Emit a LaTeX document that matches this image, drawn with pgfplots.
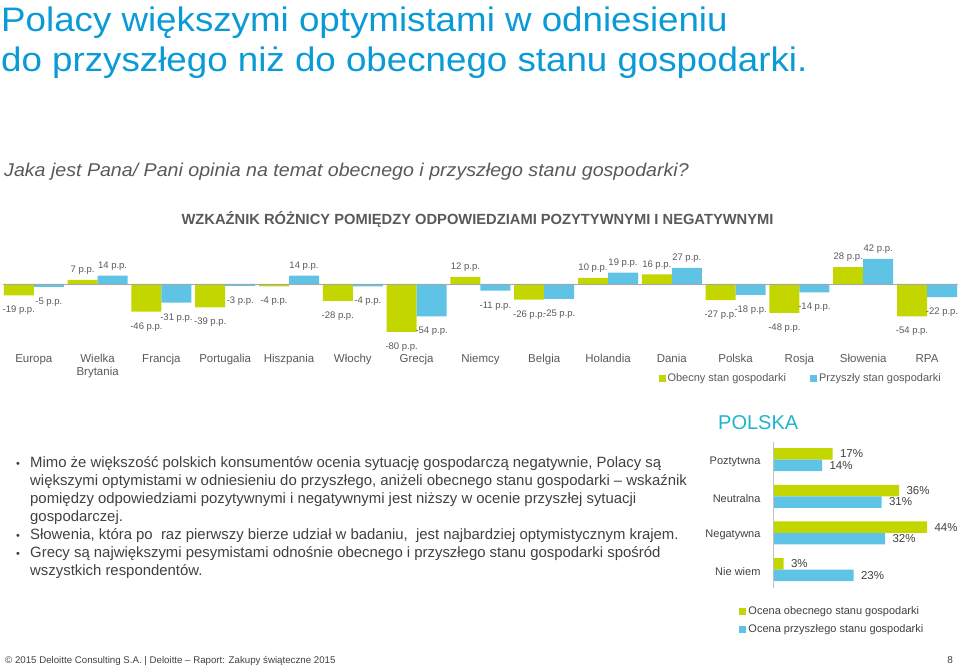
\documentclass[border=0pt]{standalone}
\usepackage{fontspec}
\setmainfont{Liberation Sans}
\usepackage{pgfplots}
\pgfplotsset{compat=1.18}

\definecolor{titleblue}{HTML}{0A9BD7}
\definecolor{polteal}{HTML}{1DB5CB}
\definecolor{obecny}{HTML}{C4D600}
\definecolor{przyszly}{HTML}{5FC3E6}
\definecolor{lblgray}{HTML}{595959}
\definecolor{txtgray}{HTML}{404040}
\definecolor{linegray}{HTML}{A6A6A6}

\newcommand{\fs}[1]{\fontsize{#1}{1.2\dimexpr#1pt\relax}\selectfont}

\begin{document}
\begin{tikzpicture}
\useasboundingbox (0pt,0pt) rectangle (960pt,667pt);

% headings
\node[anchor=base west, inner sep=0pt, text=titleblue, font=\fs{34}] at (1pt,635pt) {\scalebox{1.08}[1]{Polacy większymi optymistami w odniesieniu}};
\node[anchor=base west, inner sep=0pt, text=titleblue, font=\fs{34}] at (1pt,595pt) {\scalebox{1.08}[1]{do przyszłego niż do obecnego stanu gospodarki.}};
\node[anchor=base west, inner sep=0pt, text=lblgray, font=\fs{18.5}\itshape] at (4pt,490pt) {\scalebox{1.06}[1]{Jaka jest Pana/ Pani opinia na temat obecnego i przyszłego stanu gospodarki?}};
\node[anchor=base, inner sep=0pt, text=lblgray, font=\fs{14.7}\bfseries] at (477.5pt,442pt) {WZKAŹNIK RÓŻNICY POMIĘDZY ODPOWIEDZIAMI POZYTYWNYMI I NEGATYWNYMI};

% main chart
\begin{axis}[
  at={(0pt,320pt)}, anchor=south west,
  x=63.8pt, y=0.6pt,
  xmin=-0.53, xmax=14.53, ymin=-105, ymax=50,
  ybar=0pt, bar width=30pt,
  axis line style={draw=none}, major tick length=0pt,
  ytick=\empty,
  xtick={0,...,14},
  xticklabels={Europa,{Wielka\\Brytania},Francja,Portugalia,Hiszpania,Włochy,Grecja,Niemcy,Belgia,Holandia,Dania,Polska,Rosja,Słowenia,RPA},
  xticklabel style={align=center, font=\fontsize{11.5}{12.5}\selectfont, text=lblgray, anchor=north, yshift=-4pt},
  /pgf/number format/assume math mode=true,
  nodes near coords={\rule[-5.5pt]{0pt}{21.3pt}\pgfmathprintnumber{\pgfplotspointmeta} p.p.},
  every node near coord/.append style={font=\fs{9.5}, text=lblgray, inner sep=1.5pt},
  legend columns=2,
  legend style={draw=none, fill=none, at={(0.682,-0.34)}, anchor=west,
    font=\fs{11}, text=lblgray,
    /tikz/every even column/.append style={column sep=22pt}},
  legend image code/.code={\fill[#1,draw=none] (0pt,-3.5pt) rectangle (7pt,3.5pt);},
]
\addplot[fill=obecny, draw=none] coordinates {
  (0,-19) (1,7) (2,-46) (3,-39) (4,-4) (5,-28) (6,-80) (7,12)
  (8,-26) (9,10) (10,16) (11,-27) (12,-48) (13,28) (14,-54)};
\addlegendentry{Obecny stan gospodarki}
\addplot[fill=przyszly, draw=none] coordinates {
  (0,-5) (1,14) (2,-31) (3,-3) (4,14) (5,-4) (6,-54) (7,-11)
  (8,-25) (9,19) (10,27) (11,-18) (12,-14) (13,42) (14,-22)};
\addlegendentry{Przyszły stan gospodarki}
\draw[linegray, line width=0.8pt] (axis cs:-0.48,0) -- (axis cs:14.48,0);
\end{axis}

% bullet text
\foreach \y/\b/\t in {
  200/1/{Mimo że większość polskich konsumentów ocenia sytuację gospodarczą negatywnie, Polacy są},
  182/0/{większymi optymistami w odniesieniu do przyszłego, aniżeli obecnego stanu gospodarki – wskaźnik},
  164/0/{pomiędzy odpowiedziami pozytywnymi i negatywnymi jest niższy w ocenie przyszłej sytuacji},
  146/0/{gospodarczej.},
  128/1/{Słowenia, która po\ \ raz pierwszy bierze udział w badaniu,\ \ jest najbardziej optymistycznym krajem.},
  110/1/{Grecy są największymi pesymistami odnośnie obecnego i przyszłego stanu gospodarki spośród},
  92/0/{wszystkich respondentów.}}{
  \node[anchor=base west, inner sep=0pt, text=txtgray, font=\fs{14.9}] at (30pt,\y pt) {\t};
  \ifnum\b=1 \node[anchor=base, inner sep=0pt, text=txtgray, font=\fs{11}] at (18pt,\y pt) {•};\fi
}

% Polska panel
\node[anchor=west, inner sep=0pt, text=polteal, font=\fs{20}] at (718pt,244pt) {POLSKA};
\begin{axis}[
  at={(773pt,79pt)}, anchor=south west,
  x=3.5pt, y=36.7pt,
  xmin=0, xmax=50, ymin=-0.5, ymax=3.48,
  xbar, bar width=11.5pt,
  axis line style={draw=none}, major tick length=0pt,
  xtick=\empty,
  ytick={0,1,2,3},
  yticklabels={Nie wiem,Negatywna,Neutralna,Poztytwna},
  yticklabel style={font=\fs{11}, text=txtgray, xshift=-9pt, yshift=-2pt},
  /pgf/number format/assume math mode=true,
  nodes near coords={\pgfmathprintnumber{\pgfplotspointmeta}\%},
  every node near coord/.append style={font=\fs{11.5}, text=txtgray, xshift=4pt},
  legend cell align=left,
  legend style={draw=none, fill=none, at={(-0.21,-0.10)}, anchor=north west,
    font=\fs{11}, text=txtgray, row sep=4pt},
  legend image code/.code={\fill[#1,draw=none] (0pt,-3.5pt) rectangle (7pt,3.5pt);},
]
\addplot[fill=obecny, draw=none, bar shift=5.75pt] coordinates {(17,3) (36,2) (44,1) (3,0)};
\addlegendentry{Ocena obecnego stanu gospodarki}
\addplot[fill=przyszly, draw=none, bar shift=-5.75pt] coordinates {(14,3) (31,2) (32,1) (23,0)};
\addlegendentry{Ocena przyszłego stanu gospodarki}
\draw[linegray!70, line width=0.6pt] (axis cs:0,-0.5) -- (axis cs:0,3.48);
\end{axis}

% footer
\node[anchor=base west, inner sep=0pt, text=txtgray, font=\fs{9.7}] at (5pt,4pt) {© 2015 Deloitte Consulting S.A. | Deloitte – Raport: Zakupy świąteczne 2015};
\node[anchor=base east, inner sep=0pt, text=txtgray, font=\fs{10}] at (953pt,4pt) {8};
\end{tikzpicture}
\end{document}
